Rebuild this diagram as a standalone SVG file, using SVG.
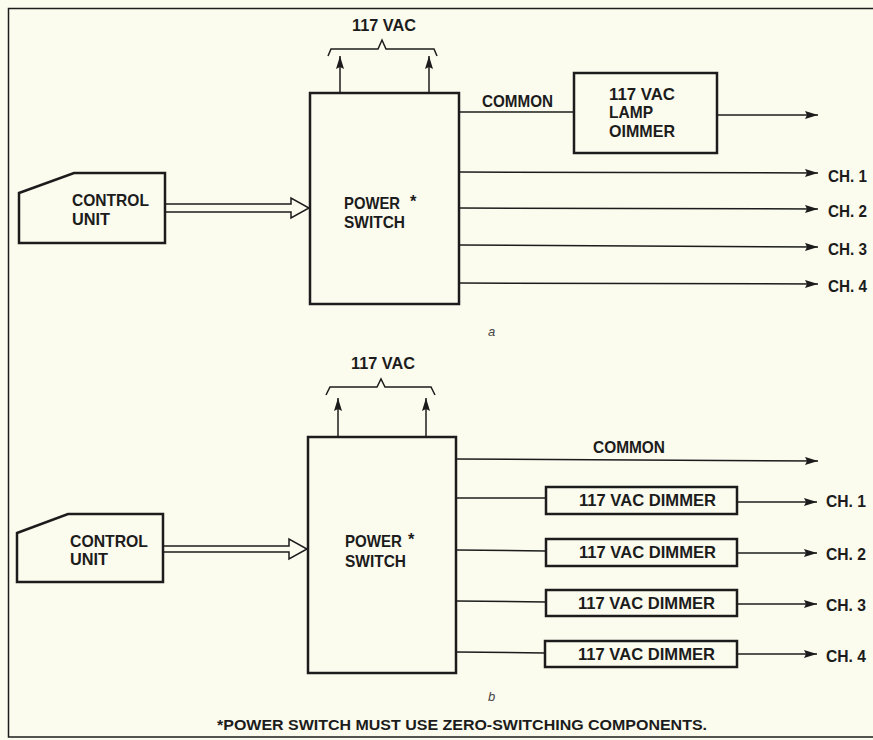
<svg xmlns="http://www.w3.org/2000/svg" width="873" height="740" viewBox="0 0 873 740">
<defs>
<style>
.bg{fill:#fbfbee}
.box{fill:none;stroke:#1c1c1c;stroke-width:2.5}
.ln{fill:none;stroke:#1c1c1c;stroke-width:1.5}
.t{font-family:"Liberation Sans",Arial,sans-serif;font-weight:bold;font-size:16.5px;fill:#1c1c1c}
.fn{font-size:14.5px}
.lbl{font-family:"Liberation Sans",Arial,sans-serif;font-style:italic;font-size:13px;fill:#444}
</style>
<marker id="ah" viewBox="0 0 13 8" refX="13" refY="4" markerWidth="13" markerHeight="8" markerUnits="userSpaceOnUse" orient="auto">
<path d="M0,0 L13,4 L0,8 L2,4 Z" fill="#1c1c1c"/>
</marker>
</defs>
<rect class="bg" x="0" y="0" width="873" height="740"/>
<path class="ln" d="M873,8.5 H8.5 V737 H873" stroke-width="2"/>

<!-- ===== Diagram a ===== -->
<g id="a-control-unit">
<path class="box" d="M19,193 L74,173 H165 V243 H19 Z"/>
<text class="t" x="72" y="206" textLength="77" lengthAdjust="spacingAndGlyphs">CONTROL</text>
<text class="t" x="72" y="225" textLength="38" lengthAdjust="spacingAndGlyphs">UNIT</text>
</g>
<g id="a-power-switch">
<rect class="box" x="310" y="93" width="149" height="211"/>
<text class="t" x="344" y="209" textLength="56" lengthAdjust="spacingAndGlyphs">POWER</text>
<text class="t" x="410" y="207" font-size="12">*</text>
<text class="t" x="344" y="228" textLength="61" lengthAdjust="spacingAndGlyphs">SWITCH</text>
</g>
<g id="a-lamp-dimmer">
<rect class="box" x="574" y="73" width="143" height="80"/>
<text class="t" x="609" y="100" textLength="66" lengthAdjust="spacingAndGlyphs">117 VAC</text>
<text class="t" x="609" y="118" textLength="44" lengthAdjust="spacingAndGlyphs">LAMP</text>
<text class="t" x="609" y="137" textLength="66" lengthAdjust="spacingAndGlyphs">OIMMER</text>
</g>
<g id="a-supply">
<path class="ln" d="M328,56 L331,49 H378 L382,40 L386,49 H434 L437,56"/>
<text class="t" x="352" y="31" textLength="64" lengthAdjust="spacingAndGlyphs">117 VAC</text>
</g>
<g id="a-labels">
<text class="t" x="482" y="107" textLength="71" lengthAdjust="spacingAndGlyphs">COMMON</text>
<text class="t" x="828" y="182" textLength="39" lengthAdjust="spacingAndGlyphs">CH. 1</text>
<text class="t" x="828" y="217" textLength="39" lengthAdjust="spacingAndGlyphs">CH. 2</text>
<text class="t" x="828" y="255" textLength="39" lengthAdjust="spacingAndGlyphs">CH. 3</text>
<text class="t" x="828" y="292" textLength="39" lengthAdjust="spacingAndGlyphs">CH. 4</text>
<text class="lbl" x="488" y="336">a</text>
</g>
<g id="a-connectors">
<path class="ln" d="M166,204 H291 V198 L309,208 L291,218 V212 H166"/>
<line class="ln" x1="340" y1="93" x2="340" y2="56" marker-end="url(#ah)"/>
<line class="ln" x1="429" y1="93" x2="429" y2="56" marker-end="url(#ah)"/>
<line class="ln" x1="459" y1="112" x2="574" y2="112"/>
<line class="ln" x1="717" y1="115" x2="818" y2="115" marker-end="url(#ah)"/>
<line class="ln" x1="459" y1="172" x2="818" y2="173" marker-end="url(#ah)"/>
<line class="ln" x1="459" y1="208" x2="818" y2="209" marker-end="url(#ah)"/>
<line class="ln" x1="459" y1="245" x2="818" y2="247" marker-end="url(#ah)"/>
<line class="ln" x1="459" y1="283" x2="818" y2="284" marker-end="url(#ah)"/>
</g>

<!-- ===== Diagram b ===== -->
<g id="b-control-unit">
<path class="box" d="M17,533 L68,514 H163 V582 H17 Z"/>
<text class="t" x="70" y="547" textLength="78" lengthAdjust="spacingAndGlyphs">CONTROL</text>
<text class="t" x="70" y="565" textLength="38" lengthAdjust="spacingAndGlyphs">UNIT</text>
</g>
<g id="b-power-switch">
<rect class="box" x="308" y="437" width="148" height="236"/>
<text class="t" x="345" y="547" textLength="57" lengthAdjust="spacingAndGlyphs">POWER</text>
<text class="t" x="408" y="545" font-size="12">*</text>
<text class="t" x="345" y="567" textLength="61" lengthAdjust="spacingAndGlyphs">SWITCH</text>
</g>
<g id="b-dimmer-1">
<rect class="box" x="546" y="487" width="191" height="27"/>
<text class="t" x="579" y="506" textLength="137" lengthAdjust="spacingAndGlyphs">117 VAC DIMMER</text>
</g>
<g id="b-dimmer-2">
<rect class="box" x="546" y="539" width="191" height="27"/>
<text class="t" x="579" y="558" textLength="137" lengthAdjust="spacingAndGlyphs">117 VAC DIMMER</text>
</g>
<g id="b-dimmer-3">
<rect class="box" x="546" y="590" width="191" height="26"/>
<text class="t" x="578" y="609" textLength="137" lengthAdjust="spacingAndGlyphs">117 VAC DIMMER</text>
</g>
<g id="b-dimmer-4">
<rect class="box" x="545" y="641" width="192" height="26"/>
<text class="t" x="578" y="660" textLength="137" lengthAdjust="spacingAndGlyphs">117 VAC DIMMER</text>
</g>
<g id="b-supply">
<path class="ln" d="M326,395 L330,387 H377 L381,379 L385,387 H431 L435,395"/>
<text class="t" x="351" y="369" textLength="64" lengthAdjust="spacingAndGlyphs">117 VAC</text>
</g>
<g id="b-labels">
<text class="t" x="593" y="453" textLength="72" lengthAdjust="spacingAndGlyphs">COMMON</text>
<text class="t" x="826" y="507" textLength="40" lengthAdjust="spacingAndGlyphs">CH. 1</text>
<text class="t" x="826" y="560" textLength="40" lengthAdjust="spacingAndGlyphs">CH. 2</text>
<text class="t" x="826" y="611" textLength="40" lengthAdjust="spacingAndGlyphs">CH. 3</text>
<text class="t" x="826" y="662" textLength="40" lengthAdjust="spacingAndGlyphs">CH. 4</text>
<text class="lbl" x="488" y="701">b</text>
<text class="t fn" x="217" y="730" textLength="490" lengthAdjust="spacingAndGlyphs">*POWER SWITCH MUST USE ZERO-SWITCHING COMPONENTS.</text>
</g>
<g id="b-connectors">
<path class="ln" d="M164,546 H289 V539 L307,549 L289,559 V552 H164"/>
<line class="ln" x1="338" y1="437" x2="338" y2="398" marker-end="url(#ah)"/>
<line class="ln" x1="426" y1="437" x2="426" y2="398" marker-end="url(#ah)"/>
<line class="ln" x1="456" y1="459" x2="818" y2="461" marker-end="url(#ah)"/>
<line class="ln" x1="456" y1="498" x2="546" y2="498"/>
<line class="ln" x1="456" y1="550" x2="546" y2="551"/>
<line class="ln" x1="456" y1="601" x2="546" y2="602"/>
<line class="ln" x1="456" y1="652" x2="545" y2="653"/>
<line class="ln" x1="737" y1="502" x2="817" y2="502" marker-end="url(#ah)"/>
<line class="ln" x1="737" y1="553" x2="817" y2="553" marker-end="url(#ah)"/>
<line class="ln" x1="737" y1="604" x2="817" y2="604" marker-end="url(#ah)"/>
<line class="ln" x1="737" y1="654" x2="817" y2="654" marker-end="url(#ah)"/>
</g>
</svg>
